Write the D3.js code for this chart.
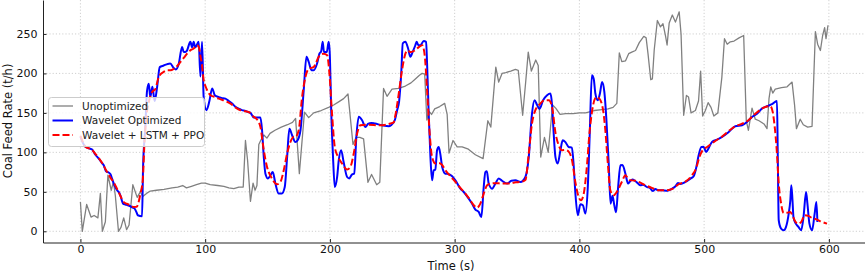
<!DOCTYPE html>
<html><head><meta charset="utf-8">
<script src="https://cdn.jsdelivr.net/npm/d3@7"></script>
<style>body{margin:0;background:#fff}svg{display:block}text{font-family:"DejaVu Sans",sans-serif}</style>
</head><body>
<svg id="chart" width="865" height="273"></svg>
<script>
// ---------------- data ----------------
const xTickLabels = [0, 100, 200, 300, 400, 500, 600];
const yTickLabels = [0, 50, 100, 150, 200, 250];
const seriesNames = ["Unoptimized", "Wavelet Optimized", "Wavelet + LSTM + PPO"];

const unoptTime = [0,1.5,5,8.5,11,14,16,17.6,20,22,24.7,26.5,28,30.5,32.5,34.7,37,39,42,45.5,48,50,53,56,61,67,73.5,78,82,85,89,93,97,100,104,110,115,119,123,127,130.5,132.3,134,136.3,138.4,140,141.5,143,144.5,147,149.5,152,156,161,166,170,172.5,175.5,179.6,183,187,193,199,203,207,211,214.5,218.5,221,224,227,230.5,233.4,237.5,240,243,245.8,249.8,255,260.5,265,268.5,272,274,276,277.7,279.5,281.5,284,288,292,294,295.5,298.7,302,306,311,316.6,322.8,326.6,329,333,335.3,338,341,345,348.7,351,354.5,357,359,361.5,365,367,369,372,375,378.5,381,384.5,389,395,400,405,412,418,423,427,430,432,434,437,439.5,442,445,448,451.6,453.5,455,457.2,458.5,460,462.5,465,467,469,470.3,472,474.5,477,480,481.5,483.6,485.8,487.5,489.5,493,495.5,497.2,498.8,501,503.2,505.5,507.8,511,514.2,516.3,518.5,521,524,528,531.7,533.8,535.5,538.4,541,544,548,550.4,552,553.4,555,557,562,566.5,570.5,572.5,574,577,579.5,583,586.5,588,589.2,591,593.2,595,596.6,597.7,599.3];
const unoptValues = [37,0,34,18,20,17,48,0,12,71,52,63,45,0,5,17,2,8,59,43,50,44,48,51,52,53,55,56,58,55,57,59,61,61,59,58,57,55,54,56,56,115,90,38,61,52,58,110,115,122,118,124,128,132,135,138,143,73,151,144,150,153,157,160,164,168,174,110,119,119,117,62,72,59,62,181,171,180,181,184,188,193,198,200,199,141,152,148,155,158,162,148,99,115,107,107,104,97,92,140,132,208,189,200,201,203,205,204,147,190,227,203,217,210,94,119,100,160,156,148,149,149,150,150,153,154,155,157,162,226,215,216,225,227,229,239,247,245,225,192,193,230,267,259,263,248,236,264,274,265,278,250,147,172,170,150,153,165,203,146,153,163,157,146,150,195,244,237,240,241,245,248,140,128,156,142,140,136,130,168,183,175,180,182,183,189,160,130,142,135,132,133,200,253,237,229,248,258,244,261];

const waveletTime = [0,2,4,7,9.4,12,14.7,17,18.7,20.5,22,24,25.5,26.7,28,29.4,31,32,34.2,36,38,40,42,43.3,45,46,49.4,50.2,52,53.4,54.8,56,57.7,59.5,61.5,63.6,66.8,70,72,74.8,76.5,78.8,81.5,82.8,85,88.2,89.5,90.8,92,94.8,96.2,97.5,98.8,101,103.4,105.6,107.7,110.9,113,116.2,119,121.6,124,126.9,129.5,132.3,134.5,136.3,138,139,142,144.3,145.6,147,148.3,150.4,152.3,154.2,156.3,159,161.5,163.8,165.7,167.5,169.7,172.3,174,176.4,179,181.2,183,185.2,187,189.7,191.6,193,194.2,195.3,197.5,199,199.8,201.2,202.5,203.9,205.8,207.1,209,211,213.8,215.5,217.8,219.5,221.2,223.1,225.8,228.5,230.5,233.3,236,241.8,247.2,249,252,253.9,255.5,257.3,258.4,260.5,262.7,264.5,266.5,268.5,269.5,270.8,272.5,275.2,277.1,277.9,279.2,280.6,281.9,283.2,284.5,285.9,287.2,288.5,290,292.6,295,298,300.6,304.6,307.3,311.3,314,316.6,319.3,321.4,323.3,324.6,325.8,327.3,330,332.7,335.3,338,342,345.5,348.7,352.7,356.7,359.4,362,364,366.1,368,370.9,374.1,376.8,378.1,379.4,380.8,382.6,384.8,386.6,388.8,391.4,394,395.5,396.8,398.7,400.8,402.8,404.8,406.7,408.3,410,411.5,412.8,414.7,416.5,418.2,420,421.6,423.5,425,426.5,428,429.4,431,432.9,434.5,436.9,439,440.5,442.5,444.5,447,448.9,451,454.3,456.5,458.8,460.9,463,466.3,470.3,474.3,477,479.1,481,485,489,491.6,493.5,495.6,497.8,499.5,501.6,503.5,506.3,510.4,514.4,519.7,525,530.4,534.4,538.4,542.4,546.4,550.4,554.4,558.4,559,559.8,561.7,563.8,565.5,567.8,569.1,569.9,570.8,571.6,573.5,575.6,577.8,579.8,581.7,582.8,584.4,586.5,588.6,590,590.8];
const waveletValues = [120,112,107,105,103.5,97,92,87,83.6,76,75,72.5,66,60.4,56,52,49,45.6,35,34,33,31.7,30,29,24,20.3,19,80,132,178,187,170,183,165,183,208,210,212,212.5,207,205,212,233.6,227,228,240,233,240,233,240,196,240,170,153.4,165,181,172.4,170,169,168,165,161.8,158,155.5,153.5,152.5,151,150,146,144,144,144,128,94,73,66.8,71,75,60.5,47.8,47.8,56,94,130,121.7,113,115,128,178.7,221,214.6,204,204,212.5,225,228,240,227,227,240,228,145,94,56,68.8,90,102.7,87.8,68.8,67,72.2,73,119.5,145,140.7,132,136,137.3,136.5,134.3,133,134.3,140.7,153.4,165,204,238,240,231.6,221,228,235.7,240,236,235.7,241,240,212.5,149,94,64.6,77.3,78,102.7,106.8,98,81.5,73,72.5,69.7,64.6,54,49.8,41.4,35,27.5,24.5,18,56,75,76,60.5,54,60.5,66.8,64,60.5,64,64.6,62.5,68.8,94,149,166,160,155,166,172.4,174.5,160,123.8,94,85.8,102.7,115.3,113,106.8,106,81.5,47.8,20.3,34.2,33,22.4,55,123.8,197.7,193,174.5,166,175,189.2,176.6,142.8,85.8,35,45,33,24,55,83.6,84,73,60.5,63,65.5,64,60.5,58.3,59,56,55,51,53.5,52,52,51.5,54,57,61.2,60,62.5,66.8,69.7,79.5,96.3,106.8,107,100.5,105,113.2,116.2,119.5,125.9,133,134.3,138.5,144.9,149,155.5,158.4,161,165,100,14,3.4,1.3,5,22.4,39.3,58.3,40,18,9.7,5.5,1.3,20.3,49.8,35,9.7,1.3,22.4,37.1,11.8];

const ppoTime = [0,2,4,7,9.4,12,15,18,21.4,24,26.7,29,32,34.7,37,40,42.8,45,46.5,48.1,50,51.3,52.9,55,57.5,60,62.8,66.8,70,72.1,75,78,80.2,83,85.5,88,90.8,93.5,95,96.2,97.5,98.8,100.2,101.6,104.2,108.2,111,116.2,121,125,128.3,132,135,139,141.6,144.3,147,149.6,151.5,153.6,155.5,157.7,160.3,163,165.7,168.3,171,172.3,175,177.7,180.4,183,187,189,191,195,197.8,199.6,201.7,203.9,206.6,209.8,213.8,216.4,219.1,221.8,224.4,230,240,248.5,251.1,252.5,255.2,257.8,260.5,262,265,268,271,274,276,277.9,279.8,281.9,284.6,287.2,290,292.6,296.5,300.6,304.6,308.6,312.6,315.3,318,320.6,323.3,326,329,333,338,344,349,352.7,356.7,359.4,362,364.7,368.7,371.9,375.5,378.1,380.8,383.4,386.1,389,391.4,394.1,396.8,399.4,401.3,403.5,405.6,408.3,411,413.6,416,419,420.8,422.7,424.8,427.5,430,434,436.9,440,445,452.9,458,463.6,470,475,479.6,485,490.3,493.5,496.2,498.8,502.4,506.3,510.4,514.4,519.7,525,530,535,541.1,546,549.1,553.1,555,556.6,558.2,559.8,561.7,563.8,566.5,569.1,570.8,572.5,575.2,577.9,580.6,583.5,586.5,590.5,594.5,598.5];
const ppoValues = [121,113,107,105,103,98,92,85,75,68,62,55,45,37,35,33,30.8,31,36,47.8,65,111,145,165,176.6,180,195.6,202,204,204,206,210,214.6,220,225,229,231.6,235.7,233,222,210,191.4,184,178.7,172.4,170,168,165,161,156,153.4,152,151,145,141.6,132,102.7,81.5,73,66.8,62,59.6,62.5,77.3,98.5,113,119.5,119.5,128,170,195.6,206,208,214,221,225,223,200,149,106.8,94,85.8,78.2,81.5,98.5,123.8,134.3,135,134.3,136.5,138,147,174.5,204,225,229,227,229,233,235.7,223,178.7,128,94,85.8,86.5,84,77.3,70,62.5,55,47.8,39.3,33,30,35,47.8,58.3,60.5,61,60.5,60.5,62,62.5,65,98.5,136.5,153.4,161.8,166,166,157.5,125,109,102.7,103,101,90,62,43.5,39.3,47.8,75,128,159.7,170,168,153.4,128,88,52,45.6,50,62.5,71,65,64,58.3,55,52,52,54,59.6,63,71,79.5,94,102.7,106.8,111.5,116,120,127,133,136,140,149,155,157.5,158.5,151,132,102.7,60.5,35,23.2,23.5,24.5,20,14,9.7,12,20.3,19.5,17,14.8,11.8,9.7];

// ---------------- chart ----------------
const svg = d3.select("#chart");
const pLeft = 43, pRight = 866.3, pTop = 0, pBottom = 242.5;

const x = d3.scaleLinear().domain([-30, 630]).range([pLeft, pRight]);
const y = d3.scaleLinear().domain([-14.2, 293]).range([pBottom, pTop]);

svg.append("defs").append("clipPath").attr("id", "clip")
  .append("rect").attr("x", pLeft).attr("y", pTop).attr("width", pRight - pLeft).attr("height", pBottom - pTop);

// grid
const grid = svg.append("g");
grid.selectAll("line.vx").data(xTickLabels).join("line")
  .attr("x1", d => x(d)).attr("x2", d => x(d)).attr("y1", pTop).attr("y2", pBottom)
  .attr("stroke", "#c4c4c4").attr("stroke-width", 0.8).attr("stroke-dasharray", "1.2,2");
grid.selectAll("line.hy").data(yTickLabels).join("line")
  .attr("x1", pLeft).attr("x2", pRight).attr("y1", d => y(d)).attr("y2", d => y(d))
  .attr("stroke", "#c4c4c4").attr("stroke-width", 0.8).attr("stroke-dasharray", "1.2,2");

// lines
const plot = svg.append("g").attr("clip-path", "url(#clip)");
const zip = (ts, vs) => ts.slice(0, Math.min(ts.length, vs.length)).map((t, i) => [t, vs[i]]);
const lineLin = d3.line().x(d => x(d[0])).y(d => y(d[1])).curve(d3.curveLinear);
const lineSmooth = d3.line().x(d => x(d[0])).y(d => y(d[1])).curve(d3.curveMonotoneX);

plot.append("path").datum(zip(unoptTime, unoptValues)).attr("d", lineLin)
  .attr("fill", "none").attr("stroke", "#808080").attr("stroke-width", 1.3).attr("stroke-linejoin", "round");
plot.append("path").datum(zip(waveletTime, waveletValues)).attr("d", lineSmooth)
  .attr("fill", "none").attr("stroke", "#0000ff").attr("stroke-width", 2).attr("stroke-linejoin", "round");
plot.append("path").datum(zip(ppoTime, ppoValues)).attr("d", lineSmooth)
  .attr("fill", "none").attr("stroke", "#ff0000").attr("stroke-width", 2).attr("stroke-dasharray", "7,3");

// axes
const fs = "10.5px";
const fsLabel = "11.5px";
const xAxis = d3.axisBottom(x).tickValues(xTickLabels).tickSizeInner(-3.5).tickSizeOuter(0).tickPadding(3).tickFormat(d3.format("d"));
const gx = svg.append("g").attr("transform", `translate(0,${pBottom})`).call(xAxis);
gx.select(".domain").attr("stroke", "#222").attr("stroke-width", 1);
gx.selectAll(".tick line").attr("stroke", "#222");
gx.selectAll("text").attr("font-size", "11px").attr("fill", "#111").style("font-family", "DejaVu Sans");

const yAxis = d3.axisLeft(y).tickValues(yTickLabels).tickSizeInner(-3.5).tickSizeOuter(0).tickPadding(5.5).tickFormat(d3.format("d"));
const gy = svg.append("g").attr("transform", `translate(${pLeft},0)`).call(yAxis);
gy.select(".domain").attr("stroke", "#222").attr("stroke-width", 1);
gy.selectAll(".tick line").attr("stroke", "#222");
gy.selectAll("text").attr("font-size", "11px").attr("fill", "#111").style("font-family", "DejaVu Sans");

svg.append("text").attr("x", 451).attr("y", 270).attr("text-anchor", "middle")
  .attr("font-size", fsLabel).attr("fill", "#111").text("Time (s)");
svg.append("text").attr("transform", "translate(11.5,121) rotate(-90)").attr("text-anchor", "middle")
  .attr("font-size", fsLabel).attr("fill", "#111").text("Coal Feed Rate (t/h)");

// legend
const lg = svg.append("g");
lg.append("rect").attr("x", 48.5).attr("y", 97.5).attr("width", 156).attr("height", 49).attr("rx", 3)
  .attr("fill", "#fff").attr("fill-opacity", 0.8).attr("stroke", "#cccccc").attr("stroke-width", 1);
const legendStyles = [
  {c: "#808080", w: 1.3, dash: null},
  {c: "#0000ff", w: 2, dash: null},
  {c: "#ff0000", w: 2, dash: "7,3"}
];
const rowY = [106, 120.5, 135];
seriesNames.forEach((n, i) => {
  const s = legendStyles[i];
  const l = lg.append("line").attr("x1", 52.5).attr("x2", 73).attr("y1", rowY[i]).attr("y2", rowY[i])
    .attr("stroke", s.c).attr("stroke-width", s.w);
  if (s.dash) l.attr("stroke-dasharray", s.dash);
  lg.append("text").attr("x", 82).attr("y", rowY[i]).attr("dy", "0.35em")
    .attr("font-size", fs).attr("fill", "#222").text(n);
});
</script>
</body></html>
